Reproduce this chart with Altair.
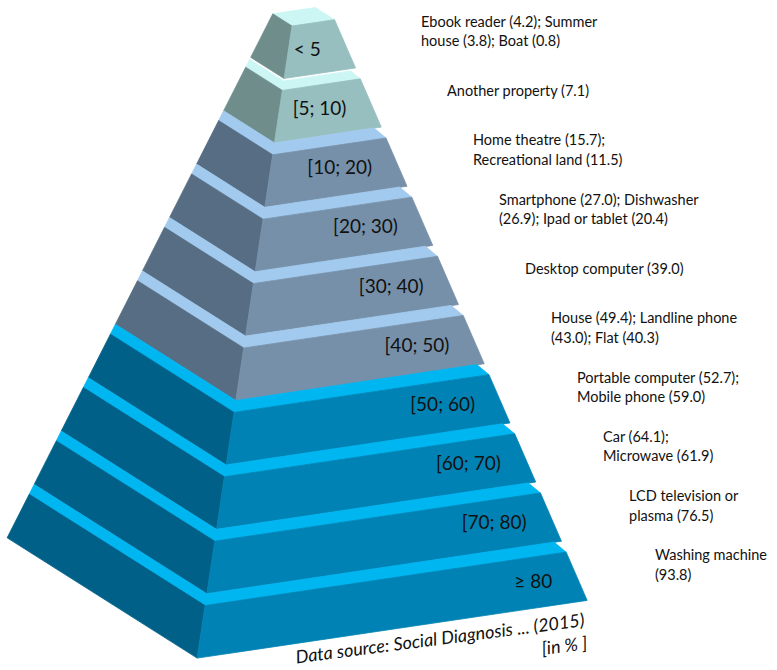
import altair as alt
import pandas as pd

# ---------------- data ----------------
level_labels = ["< 5", "[5; 10)", "[10; 20)", "[20; 30)", "[30; 40)",
                "[40; 50)", "[50; 60)", "[60; 70)", "[70; 80)", "≥ 80"]
level_groups = [0, 0, 1, 1, 1, 1, 2, 2, 2, 2]
annotations = [
    ["Ebook reader (4.2); Summer", "house (3.8); Boat (0.8)"],
    ["Another property (7.1)"],
    ["Home theatre (15.7);", "Recreational land (11.5)"],
    ["Smartphone  (27.0); Dishwasher", "(26.9); Ipad or tablet (20.4)"],
    ["Desktop computer  (39.0)"],
    ["House (49.4); Landline phone", "(43.0); Flat (40.3)"],
    ["Portable computer  (52.7);", "Mobile phone  (59.0)"],
    ["Car (64.1);", "Microwave (61.9)"],
    ["LCD television or", "plasma (76.5)"],
    ["Washing machine", "(93.8)"],
]
source_note = "Data source: Social Diagnosis ... (2015)"
unit_note = "[in % ]"

# ---------------- styles ----------------
front_palette = ["#97BFBF", "#7790A9", "#0083B4"]
side_palette = ["#6F8E8B", "#566D83", "#006088"]
top_palette = ["#CCF6F4", "#A2CAEE", "#00B6F1"]
TEXT_COLOR = "#111111"
FONT = "Lato"

W, H = 777, 670
N = len(level_labels)

# ---------------- geometry (screen-like space, y grows downward) ----------------
TOP0, STEP, FACE_H = 26.0, 64.4, 52.5
MF, ML = -0.148, 0.633          # slopes of front / side horizontal edges
GAPS = [0, 2.5] + [0] * (N - 2)  # white seam under the top block


def xf(y):  # front-left edge
    return 292.0 - 0.150 * (y - 26.0)


def xb(y):  # back-left edge
    return 272.7 - 0.507 * (y - 14.0)


def xr(y):  # front-right edge
    return 335.0 + 0.435 * (y - 20.7)


def on_edge(edge, x0, y0, m):
    a = edge(0.0)
    b = edge(1.0) - a
    y = (y0 + m * (a - x0)) / (1 - m * b)
    return (a + b * y, y)


rows = []


def add_poly(pid, pts, color):
    pts = list(pts) + [pts[0]]
    for k, (x, y) in enumerate(pts):
        rows.append({"pid": pid, "ord": k, "x": x, "y": y, "color": color})


def level_corners(yt, yb):
    FLt, FLb = (xf(yt), yt), (xf(yb), yb)
    return dict(FLt=FLt, FLb=FLb,
                FRt=on_edge(xr, *FLt, MF), FRb=on_edge(xr, *FLb, MF),
                BLt=on_edge(xb, *FLt, ML), BLb=on_edge(xb, *FLb, ML),
                yt=yt, yb=yb)


corners = [level_corners(TOP0 + STEP * i, TOP0 + STEP * i + FACE_H) for i in range(N)]

for i in range(N):
    c = corners[i]
    g = level_groups[i]
    if i == 0:
        BR = (c["BLt"][0] + c["FRt"][0] - c["FLt"][0], c["BLt"][1] + c["FRt"][1] - c["FLt"][1])
        band = [c["BLt"], c["FLt"], c["FRt"], BR]
    else:
        p = level_corners(corners[i - 1]["yt"], corners[i - 1]["yb"] + GAPS[i])
        gap = c["yt"] - p["yb"]
        t = gap / 0.754
        Pr = (c["FRt"][0] - 0.77 * t, c["FRt"][1] - 0.64 * t)
        band = [c["BLt"], c["FLt"], c["FRt"], Pr, p["FLb"], p["BLb"]]
    add_poly(f"b{i:02d}", band, top_palette[g])
    add_poly(f"s{i:02d}", [c["BLt"], c["FLt"], c["FLb"], c["BLb"]], side_palette[g])
    add_poly(f"f{i:02d}", [c["FLt"], c["FRt"], c["FRb"], c["FLb"]], front_palette[g])

poly_df = pd.DataFrame(rows)

# level labels inside the front faces
lab_rows = []
for i, lab in enumerate(level_labels):
    c = corners[i]
    ym = (c["yt"] + c["yb"]) / 2
    xa = xr(ym) - 27
    for _ in range(3):
        ly = ym + MF * (xa - 30 - xf(ym)) - 2
        xa = xr(ly) - 27
    lab_rows.append({"x": xa, "y": ly, "text": lab})
lab_df = pd.DataFrame(lab_rows)

# annotations to the right
ann_rows = []
for i, lines in enumerate(annotations):
    cx = 421 + 26.0 * i
    cy = 32.7 + 59.27 * i
    n = len(lines)
    for k, line in enumerate(lines):
        ann_rows.append({"x": cx, "y": cy + (k - (n - 1) / 2) * 19.5, "text": line})
ann_df = pd.DataFrame(ann_rows)

note_df = pd.DataFrame([
    {"x": 585, "y": 626, "text": source_note},
    {"x": 588, "y": 649, "text": unit_note},
])

xs = alt.Scale(domain=[0, W], nice=False, zero=False)
ys = alt.Scale(domain=[H, 0], nice=False, zero=False)
X = lambda: alt.X("x:Q", scale=xs, axis=None)
Y = lambda: alt.Y("y:Q", scale=ys, axis=None)

polys = alt.Chart(poly_df).mark_line(strokeWidth=0.8, interpolate="linear").encode(
    x=X(), y=Y(),
    detail="pid:N",
    order=alt.Order("ord:Q"),
    fill=alt.Fill("color:N", scale=None),
    stroke=alt.Stroke("color:N", scale=None),
)

labels = alt.Chart(lab_df).mark_text(
    align="right", baseline="middle", font=FONT, fontSize=19, color=TEXT_COLOR
).encode(x=X(), y=Y(), text="text:N")

ann = alt.Chart(ann_df).mark_text(
    align="left", baseline="middle", font=FONT, fontSize=14.5, color=TEXT_COLOR
).encode(x=X(), y=Y(), text="text:N")

notes = alt.Chart(note_df).mark_text(
    align="right", baseline="alphabetic", font=FONT, fontSize=18, fontStyle="italic",
    angle=352.6, color=TEXT_COLOR
).encode(x=X(), y=Y(), text="text:N")

chart = alt.layer(polys, labels, ann, notes).properties(
    width=W, height=H, padding=0,
    autosize=alt.AutoSizeParams(type="none"),
    background="white",
).configure_view(stroke=None)

chart.save("out.html", embed_options={"renderer": "svg", "actions": False})
